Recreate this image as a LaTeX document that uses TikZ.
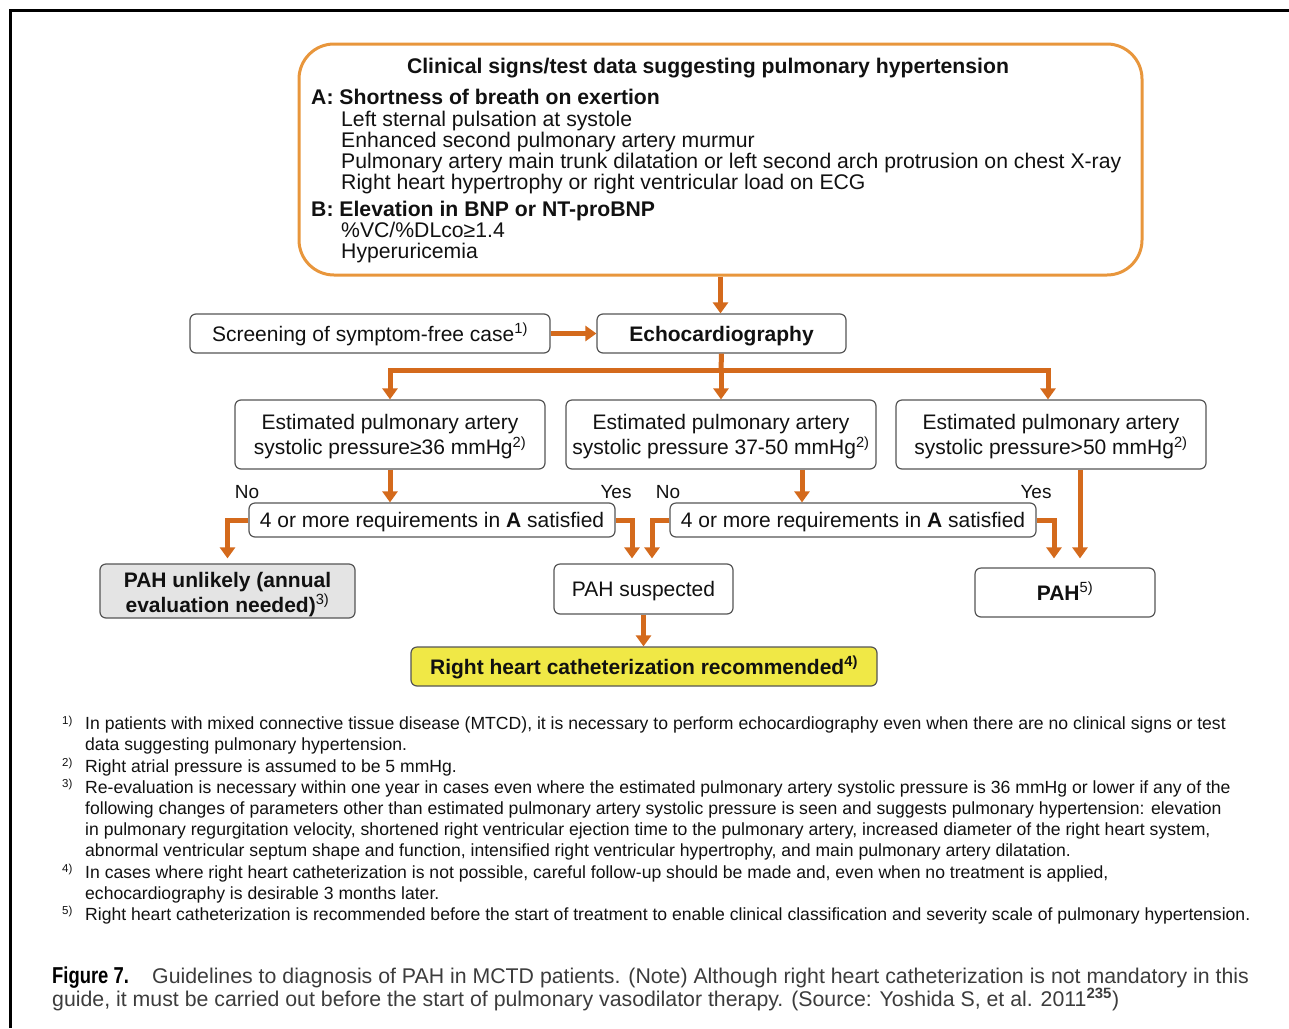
\documentclass[tikz,border=0pt]{standalone}
\usepackage{fontspec}
\setmainfont{Liberation Sans}
\usetikzlibrary{arrows.meta}
\definecolor{arrc}{RGB}{212,106,28}
\definecolor{topc}{RGB}{232,150,60}
\definecolor{edgec}{RGB}{85,85,85}
\definecolor{grayf}{RGB}{228,228,228}
\definecolor{yellowf}{RGB}{240,232,70}
\definecolor{txtc}{RGB}{17,17,17}
\definecolor{capc}{RGB}{60,60,60}
\newcommand{\fsz}[2]{\fontsize{#1}{#2}\selectfont}
\newcommand{\supr}[1]{\textsuperscript{#1}}
\begin{document}
\begin{tikzpicture}[x=1pt,y=-1pt,
  box/.style={draw=edgec, line width=1.2pt, rounded corners=6pt, fill=white, inner sep=0pt, align=center, text=txtc, font=\fsz{21}{25}},
  oneline/.style={text height=15pt, text depth=0pt},
  arr/.style={draw=arrc, line width=5pt, line join=miter, -{Triangle[width=15pt,length=11pt]}},
  tl/.style={anchor=base west, inner sep=0pt, text=txtc, font=\fsz{21.2}{21}},
  tlb/.style={tl, font=\fsz{21.2}{21}\bfseries},
  lab/.style={inner sep=0pt, text=txtc, font=\fsz{19}{19}},
  fn/.style={anchor=base west, inner sep=0pt, text=txtc, font=\fsz{17.6}{21}},
  fnn/.style={anchor=base west, inner sep=0pt, text=txtc, font=\fsz{11.5}{12}},
  captxt/.style={anchor=base west, inner sep=0pt, text=capc, font=\fsz{21.3}{23}}]
\useasboundingbox (0,0) rectangle (1289,1028);
% frame
\draw[line width=3pt] (10,1028) -- (10,10) -- (1289,10);
% top box
\node[draw=topc, line width=3pt, rounded corners=35pt, minimum width=843pt, minimum height=231pt, inner sep=0pt] (top) at (720.5,159.5) {};
\node[anchor=base, inner sep=0pt, text=txtc, font=\fsz{21.2}{21}\bfseries] (t0) at (708,73) {Clinical signs/test data suggesting pulmonary hypertension};
\node[tlb] (ta) at (311,104) {A: Shortness of breath on exertion};
\node[tl] (ta1) at (341,126) {Left sternal pulsation at systole};
\node[tl] (ta2) at (341,147) {Enhanced second pulmonary artery murmur};
\node[tl] (ta3) at (341,168) {Pulmonary artery main trunk dilatation or left second arch protrusion on chest X-ray};
\node[tl] (ta4) at (341,189) {Right heart hypertrophy or right ventricular load on ECG};
\node[tlb] (tb) at (311,216) {B: Elevation in BNP or NT-proBNP};
\node[tl] (tb1) at (341,237) {\%VC/\%DLco≥1.4};
\node[tl] (tb2) at (341,258) {Hyperuricemia};
% second row
\node[box, oneline, minimum width=360pt, minimum height=39pt] (screen) at (370,333.5) {Screening of symptom-free case\supr{1)}};
\node[box, oneline, minimum width=249pt, minimum height=39pt, font=\fsz{21}{25}\bfseries] (echo) at (721.5,333.5) {Echocardiography};
% estimate boxes
\node[box, minimum width=310pt, minimum height=69pt] (est1) at (390,434.5) {\rule{0pt}{20.3pt}Estimated pulmonary artery\\systolic pressure≥36 mmHg\supr{2)}};
\node[box, minimum width=310pt, minimum height=69pt] (est2) at (721,434.5) {\rule{0pt}{20.3pt}Estimated pulmonary artery\\systolic pressure 37-50 mmHg\supr{2)}};
\node[box, minimum width=310pt, minimum height=69pt] (est3) at (1051,434.5) {\rule{0pt}{20.3pt}Estimated pulmonary artery\\systolic pressure>50 mmHg\supr{2)}};
% decisions
\node[box, oneline, minimum width=366pt, minimum height=34pt] (dec1) at (432,520) {4 or more requirements in \textbf{A} satisfied};
\node[box, oneline, minimum width=366pt, minimum height=34pt] (dec2) at (853,520) {4 or more requirements in \textbf{A} satisfied};
\node[lab] (no1) at (247,492) {No};
\node[lab] (yes1) at (616,492) {Yes};
\node[lab] (no2) at (668,492) {No};
\node[lab] (yes2) at (1036,492) {Yes};
% outcomes
\node[box, fill=grayf, minimum width=255pt, minimum height=54pt, font=\fsz{21}{25}\bfseries] (unlikely) at (227.5,591) {\rule{0pt}{22.3pt}PAH unlikely (annual\\evaluation needed)\supr{\mdseries 3)}};
\node[box, oneline, minimum width=179pt, minimum height=50pt] (susp) at (643.5,589) {PAH suspected};
\node[box, oneline, minimum width=180pt, minimum height=49pt] (pah) at (1065,592.5) {\textbf{PAH}\supr{5)}};
\node[box, oneline, fill=yellowf, minimum width=466pt, minimum height=39pt, font=\fsz{21}{25}\bfseries] (rhc) at (644,666.5) {Right heart catheterization recommended\supr{4)}};
% connectors
\coordinate (split) at (721,370);
\draw[arr] (top.south) -- (top.south |- echo.north);
\draw[arr] (screen.east) -- (echo.west);
\draw[draw=arrc, line width=5pt] (echo.south) -- (split);
\draw[arr] (split) -| (est1.north);
\draw[arr] (split) -- (est2.north);
\draw[arr] (split) -| ([xshift=-3pt]est3.north);
\draw[arr] (est1.south) -- (est1.south |- dec1.north);
\draw[arr] ([xshift=81pt]est2.south) -- ([xshift=81pt]est2.south |- dec2.north);
\draw[arr, shorten >=5pt] (dec1.west) -| (unlikely.north);
\draw[arr, shorten >=5pt] (dec1.east) -| ([xshift=-11.5pt]susp.north);
\draw[arr, shorten >=5pt] (dec2.west) -| ([xshift=8.5pt]susp.north);
\draw[arr, shorten >=9pt] (dec2.east) -| ([xshift=-11pt]pah.north);
\draw[arr, shorten >=9pt] ([xshift=29pt]est3.south) -- ([xshift=29pt]est3.south |- pah.north);
\draw[arr] (susp.south) -- (susp.south |- rhc.north);
% footnotes
\node[fnn] (n1) at (62,724) {1)};
\node[fn] (f1a) at (85,729) {In patients with mixed connective tissue disease (MTCD), it is necessary to perform echocardiography even when there are no clinical signs or test};
\node[fn] (f1b) at (85,750) {data suggesting pulmonary hypertension.};
\node[fnn] (n2) at (62,766) {2)};
\node[fn] (f2a) at (85,772) {Right atrial pressure is assumed to be 5 mmHg.};
\node[fnn] (n3) at (62,787) {3)};
\node[fn] (f3a) at (85,793) {Re-evaluation is necessary within one year in cases even where the estimated pulmonary artery systolic pressure is 36 mmHg or lower if any of the};
\node[fn] (f3b) at (85,814) {following changes of parameters other than estimated pulmonary artery systolic pressure is seen and suggests pulmonary hypertension: elevation};
\node[fn] (f3c) at (85,835) {in pulmonary regurgitation velocity, shortened right ventricular ejection time to the pulmonary artery, increased diameter of the right heart system,};
\node[fn] (f3d) at (85,856) {abnormal ventricular septum shape and function, intensified right ventricular hypertrophy, and main pulmonary artery dilatation.};
\node[fnn] (n4) at (62,872) {4)};
\node[fn] (f4a) at (85,878) {In cases where right heart catheterization is not possible, careful follow-up should be made and, even when no treatment is applied,};
\node[fn] (f4b) at (85,899) {echocardiography is desirable 3 months later.};
\node[fnn] (n5) at (62,914) {5)};
\node[fn] (f5a) at (85,920) {Right heart catheterization is recommended before the start of treatment to enable clinical classification and severity scale of pulmonary hypertension.};
% caption
\node[captxt, text=black] (cap0) at (52,983) {\scalebox{0.8}[1]{\fsz{23}{23}\bfseries Figure 7.}};
\node[captxt] (cap1) at (152,983) {Guidelines to diagnosis of PAH in MCTD patients. (Note) Although right heart catheterization is not mandatory in this};
\node[captxt] (cap2) at (52,1006) {guide, it must be carried out before the start of pulmonary vasodilator therapy. (Source: Yoshida S, et al. 2011\supr{\bfseries 235})};
\end{tikzpicture}
\end{document}
